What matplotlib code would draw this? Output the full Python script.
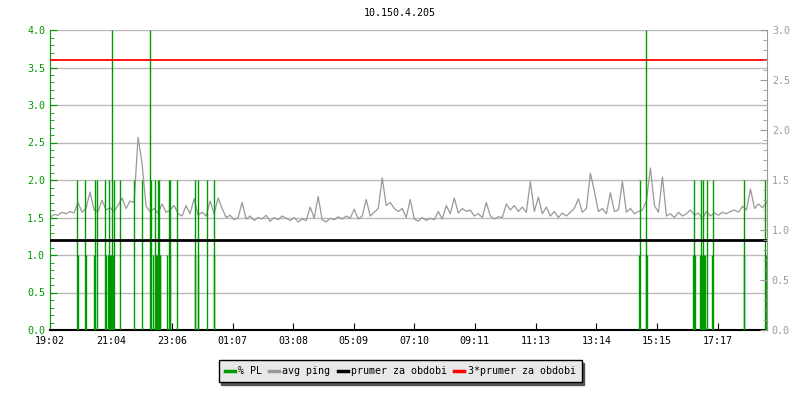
import numpy as np
import matplotlib
matplotlib.use("Agg")
from matplotlib import pyplot as plt
from matplotlib.lines import Line2D
from matplotlib.ticker import MultipleLocator

# avg ping, one reading every 8 minutes from 19:02
ping = [
    1.50, 1.54, 1.53, 1.57, 1.55, 1.58, 1.56, 1.70, 1.57, 1.62,
    1.84, 1.60, 1.58, 1.73, 1.60, 1.63, 1.58, 1.66, 1.76, 1.62,
    1.72, 1.70, 2.57, 2.22, 1.65, 1.58, 1.62, 1.56, 1.68, 1.57,
    1.60, 1.66, 1.55, 1.52, 1.66, 1.55, 1.75, 1.53, 1.57, 1.52,
    1.72, 1.55, 1.76, 1.62, 1.50, 1.53, 1.47, 1.50, 1.70, 1.48,
    1.52, 1.46, 1.50, 1.48, 1.53, 1.45, 1.50, 1.47, 1.52, 1.49,
    1.46, 1.50, 1.44, 1.48, 1.46, 1.64, 1.49, 1.78, 1.47, 1.44,
    1.49, 1.47, 1.51, 1.48, 1.52, 1.49, 1.61, 1.48, 1.52, 1.74,
    1.52, 1.57, 1.62, 2.03, 1.66, 1.70, 1.62, 1.58, 1.62, 1.50,
    1.74, 1.48, 1.45, 1.50, 1.46, 1.49, 1.47, 1.58, 1.48, 1.66,
    1.55, 1.76, 1.56, 1.62, 1.58, 1.60, 1.52, 1.55, 1.50, 1.70,
    1.52, 1.48, 1.51, 1.50, 1.68, 1.60, 1.66, 1.58, 1.64, 1.57,
    1.98, 1.58, 1.77, 1.55, 1.64, 1.52, 1.58, 1.50, 1.56, 1.52,
    1.57, 1.62, 1.75, 1.57, 1.62, 2.09, 1.85, 1.58, 1.62, 1.55,
    1.83, 1.58, 1.60, 1.98, 1.57, 1.62, 1.55, 1.58, 1.60, 1.72,
    2.16, 1.66, 1.57, 2.04, 1.52, 1.55, 1.50, 1.57, 1.52, 1.55,
    1.60, 1.53, 1.56, 1.48, 1.58, 1.52, 1.56, 1.53, 1.57, 1.55,
    1.58, 1.60, 1.57, 1.65, 1.60, 1.88, 1.62, 1.68, 1.63, 1.70,
]
ping_step_min = 8

# packet loss events: minutes after 19:02 and % value
pl_minutes = [
    54, 55, 70, 71, 88, 89, 93, 110, 112, 116, 118, 120, 122, 124, 126, 127,
    140, 167, 183, 199, 201, 206, 209, 211, 213, 215, 217, 219, 220,
    234, 237, 239, 240, 253, 289, 290, 295, 296, 313, 327, 328,
    1177, 1179, 1191, 1192, 1193, 1285, 1287, 1289,
    1300, 1301, 1304, 1306, 1308, 1310, 1313, 1323, 1325,
    1387, 1388, 1429, 1431,
]
pl_values = [
    2, 1, 2, 1, 1, 2, 2, 2, 1, 1, 2, 1, 1, 4, 1, 2,
    2, 2, 2, 4, 2, 1, 2, 1, 1, 2, 2, 1, 1,
    1, 2, 2, 1, 2, 2, 1, 2, 1, 2, 2, 1,
    1, 2, 1, 4, 1, 1, 2, 1,
    1, 2, 1, 2, 1, 1, 2, 1, 2,
    2, 1, 2, 1,
]

avg_all = 1.2
tick_labels = ["19:02", "21:04", "23:06", "01:07", "03:08", "05:09",
               "07:10", "09:11", "11:13", "13:14", "15:15", "17:17"]

GREEN = "#009900"
GREY = "#999999"
FONT = "DejaVu Sans Mono"
FS = 7.2


def label_minutes(labels):
    h0, m0 = map(int, labels[0].split(":"))
    out = []
    for lab in labels:
        h, m = map(int, lab.split(":"))
        out.append(((h * 60 + m) - (h0 * 60 + m0)) % 1440)
    return out


def main() -> None:
    plt.rcParams["font.family"] = FONT
    fig = plt.figure(figsize=(8, 4), dpi=100)
    ax = fig.add_axes([50 / 800, 70 / 400, 717 / 800, 300 / 400])

    for y in np.arange(0.5, 4.01, 0.5):
        ax.axhline(y, color="#bbbbbb", lw=1, zorder=1)

    t = np.arange(len(ping)) * ping_step_min
    ax.plot(t, ping, color=GREY, lw=0.9, zorder=2)
    ax.vlines(pl_minutes, 0, pl_values, color=GREEN, lw=1.0, zorder=3)
    ax.axhline(avg_all, color="black", lw=2, zorder=4)
    ax.axhline(3 * avg_all, color="red", lw=1.3, zorder=4)

    ax.set_xlim(0, 1433)
    ax.set_ylim(0, 4)
    ax.yaxis.set_major_locator(MultipleLocator(0.5))
    ax.yaxis.set_minor_locator(MultipleLocator(0.1))
    ax.set_xticks(label_minutes(tick_labels))
    ax.set_xticklabels(tick_labels)
    ax.yaxis.set_major_formatter(plt.FormatStrFormatter("%.1f"))

    ax.tick_params(axis="y", which="both", direction="in", colors=GREEN,
                   labelsize=FS)
    ax.tick_params(axis="y", which="major", length=5)
    ax.tick_params(axis="y", which="minor", length=3)
    ax.tick_params(axis="x", direction="in", length=5, labelsize=FS,
                   color="black", pad=4)
    ax.spines["top"].set_visible(False)
    ax.spines["right"].set_visible(False)
    ax.spines["left"].set_color(GREEN)
    ax.spines["bottom"].set_linewidth(1.5)

    ax2 = ax.twinx()
    ax2.set_ylim(0, 3)
    ax2.yaxis.set_major_locator(MultipleLocator(0.5))
    ax2.yaxis.set_minor_locator(MultipleLocator(0.1))
    ax2.yaxis.set_major_formatter(plt.FormatStrFormatter("%.1f"))
    ax2.tick_params(axis="y", which="both", direction="in", colors=GREY,
                    labelsize=FS)
    ax2.tick_params(axis="y", which="major", length=5)
    ax2.tick_params(axis="y", which="minor", length=3)
    for side in ["top", "left", "bottom"]:
        ax2.spines[side].set_visible(False)
    ax2.spines["right"].set_color(GREY)

    fig.text(0.5, 1 - 13 / 400, "10.150.4.205", ha="center", va="center",
             fontsize=FS)

    handles = [
        Line2D([], [], color=GREEN, lw=2.5),
        Line2D([], [], color=GREY, lw=2.5),
        Line2D([], [], color="black", lw=2.5),
        Line2D([], [], color="red", lw=2.5),
    ]
    labels = ["% PL", "avg ping", "prumer za obdobi", "3*prumer za obdobi"]
    leg = fig.legend(handles, labels, loc="center", ncol=4,
                     bbox_to_anchor=(0.5, 1 - 371 / 400), fontsize=FS,
                     handlelength=1.0, handletextpad=0.35, columnspacing=0.7,
                     frameon=True, fancybox=False,
                     shadow={"color": "#555555", "alpha": 1},
                     borderpad=0.6, borderaxespad=0)
    leg.get_frame().set_facecolor("#e8e8e8")
    leg.get_frame().set_edgecolor("black")
    leg.get_frame().set_alpha(1)

    fig.savefig("out.png", dpi=100)


if __name__ == "__main__":
    main()
